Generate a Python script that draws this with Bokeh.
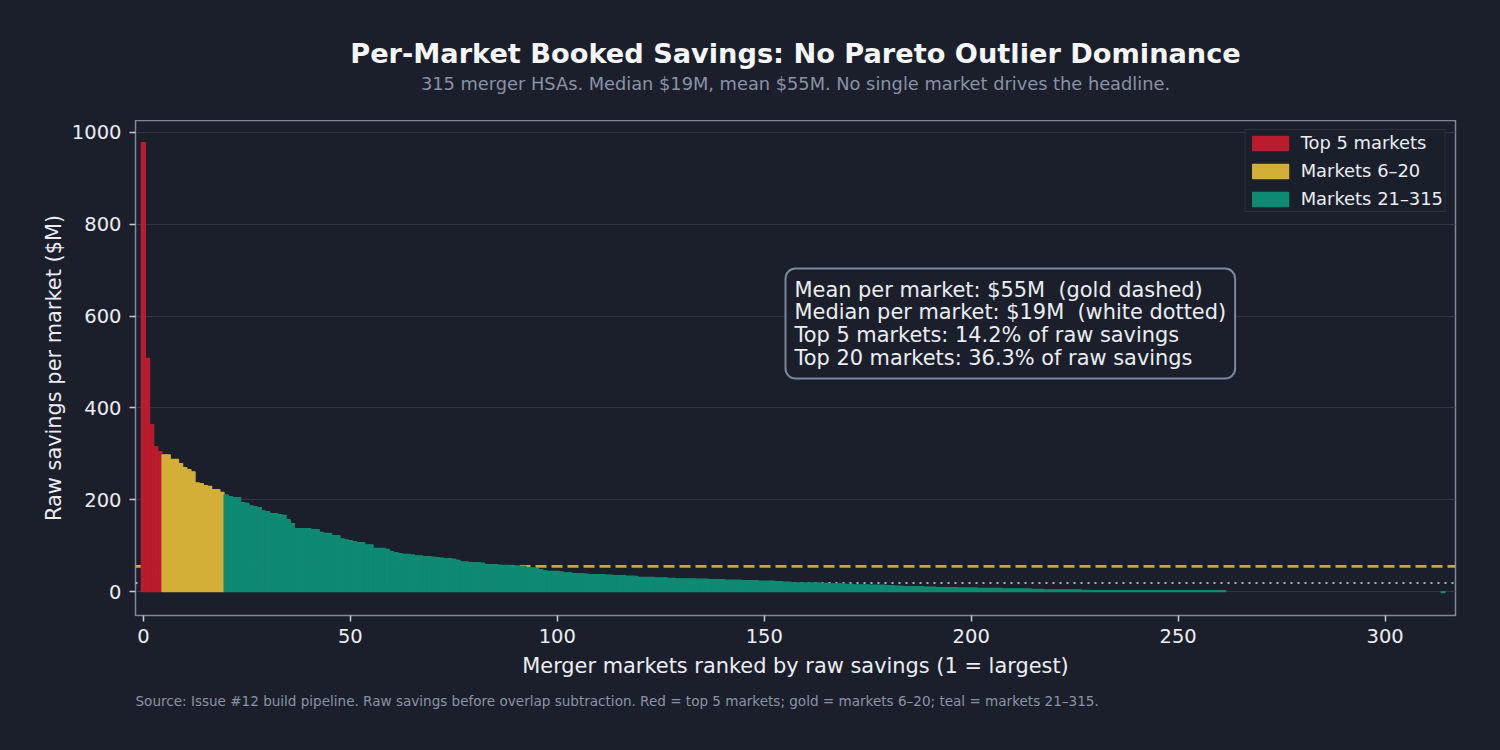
from bokeh.plotting import figure
from bokeh.layouts import column
from bokeh.models import Span, Label, Range1d, FixedTicker
from bokeh.embed import file_html
from bokeh.resources import INLINE

# ---------------- data ----------------
top5_values = [978, 508, 364, 316, 305]
mid_values = [298, 298, 288, 288, 279, 270, 266, 261, 237, 235, 231, 229, 222, 222, 216]
rest_values = [
    211, 207, 205, 205, 194, 192, 187, 185, 183, 176, 174, 170, 170, 168, 166, 157, 148,
    137, 137, 137, 137, 135, 135, 129, 127, 127, 122, 122, 115, 113, 111, 109, 107, 107,
    102, 102, 94, 94, 94, 92, 87, 85, 83,
    81, 81, 80, 78, 78, 76, 76, 75, 74, 73, 72, 72, 71, 68, 65, 65, 63, 63, 63, 62,
    59, 59, 59, 58, 57, 57, 56, 56, 55, 55, 52, 52, 50, 48, 46, 44, 44, 44, 43, 41, 41,
    39, 39, 39, 38, 37, 37, 37, 37, 36, 36, 35, 35, 35, 34, 34, 33,
    31, 31, 31, 31, 30, 30, 30, 29, 29, 28, 28, 28, 28, 28, 27, 27, 27,
    26, 26, 26, 26, 25, 25, 25, 25, 24, 24, 24, 24, 23, 23, 23, 23, 22, 22, 21, 21,
    19, 19, 19, 19, 19, 19, 19, 18, 18, 17, 17, 17, 17, 16, 16,
    15, 15, 15, 15, 14, 14, 14, 14, 13, 13,
    12, 12, 11, 11, 11, 11, 11, 10, 10, 10,
    9, 9, 9, 9, 9, 8, 8, 8, 8, 8,
    7, 7, 7, 7, 7, 7, 6, 6, 6, 6, 6, 6, 6,
    5, 5, 5, 4, 4, 4, 4, 4, 4, 4, 4, 4, 3, 3,
    2, 2, 2, 2, 2, 2, 2, 2, 2, 2, 2, 2, 2, 2, 2, 2, 2, 2, 2, 2, 2, 2, 2, 2, 2, 2, 2, 2,
    2, 2, 2, 2, 2,
    0.3, 0.3, 0.3, 0.3, 0.3, 0.3, 0.3, 0.3, 0.3, 0.3, 0.3, 0.3, 0.3, 0.3, 0.3, 0.3, 0.3,
    0.3, 0.3, 0.3, 0.3, 0.3, 0.3, 0.3, 0.3, 0.3, 0.3, 0.3, 0.3, 0.3, 0.3, 0.3, 0.3, 0.3,
    0.3, 0.3, 0.3, 0.3, 0.3, 0.3, 0.3, 0.3, 0.3, 0.3, 0.3, 0.3, 0.3, 0.3, 0.3, 0.3, 0.3,
    0.3, -2,
]
mean_value = 55
median_value = 19
x_ticks = [0, 50, 100, 150, 200, 250, 300]
y_ticks = [0, 200, 400, 600, 800, 1000]

title_text = "Per-Market Booked Savings: No Pareto Outlier Dominance"
subtitle_text = "315 merger HSAs. Median $19M, mean $55M. No single market drives the headline."
source_text = ("Source: Issue #12 build pipeline. Raw savings before overlap subtraction. "
               "Red = top 5 markets; gold = markets 6\u201320; teal = markets 21\u2013315.")
note_lines = [
    "Mean per market: $55M \u00a0(gold dashed)",
    "Median per market: $19M \u00a0(white dotted)",
    "Top 5 markets: 14.2% of raw savings",
    "Top 20 markets: 36.3% of raw savings",
]

# ---------------- styling ----------------
BG = "#1B1F2C"
RED = "#B91C2C"
GOLD = "#D4AF37"
TEAL = "#0F8A72"
TXT = "#ECEEF2"
MUTED = "#8A93A5"
FONT = "DejaVu Sans"
W = 1500
LEFT = 135
RIGHT = 45
HEADER_H = 120
FOOTER_H = 60
MAIN_H = 750 - HEADER_H - FOOTER_H


def blank_fig(h):
    # frame aligned with the main chart's frame; data units = page pixels
    f = figure(width=W, height=h, output_backend="svg", toolbar_location=None,
               x_range=Range1d(LEFT, W - RIGHT), y_range=Range1d(h, 0),
               x_axis_type=None, y_axis_type=None,
               min_border_left=LEFT, min_border_right=RIGHT, min_border_top=0,
               min_border_bottom=0, styles={"background-color": BG})
    f.background_fill_color = BG
    f.border_fill_color = BG
    f.outline_line_color = None
    f.xgrid.visible = False
    f.ygrid.visible = False
    return f


# ---------------- header ----------------
header = blank_fig(HEADER_H)
header.add_layout(Label(x=795, y=53, text=title_text, text_font=FONT, text_font_size="27.2px",
                        text_font_style="bold", text_color="#F5F6F8",
                        text_align="center", text_baseline="middle"))
header.add_layout(Label(x=795, y=83, text=subtitle_text, text_font=FONT, text_font_size="17.8px",
                        text_color=MUTED, text_align="center", text_baseline="middle"))

# ---------------- main chart ----------------
n1 = len(top5_values)
n2 = len(mid_values)
n3 = len(rest_values)
x1 = list(range(0, n1))
x2 = list(range(n1, n1 + n2))
x3 = list(range(n1 + n2, n1 + n2 + n3))
rest_lw = [1.2 if abs(v) >= 1 else 0 for v in rest_values]

p = figure(width=W, height=MAIN_H, output_backend="svg", toolbar_location=None,
           x_range=Range1d(-1.9, 317), y_range=Range1d(-52, 1026),
           min_border_left=LEFT, min_border_right=RIGHT, min_border_top=0,
           min_border_bottom=MAIN_H - 495, styles={"background-color": BG})

p.background_fill_color = BG
p.border_fill_color = BG
p.outline_line_color = "#7E8898"
p.outline_line_width = 1.5

p.xgrid.visible = False
p.ygrid.grid_line_color = "#2F3546"
p.ygrid.grid_line_width = 1
p.ygrid.level = "underlay"

mean_span = Span(location=mean_value, dimension="width", line_color=GOLD, line_alpha=0.95,
                 line_width=2.7, line_dash="11 5", level="underlay")
median_span = Span(location=median_value, dimension="width", line_color="#C4C8D0",
                   line_alpha=0.85, line_width=2, line_dash="2 5", level="underlay")
p.add_layout(mean_span)
p.add_layout(median_span)

p.vbar(x=x1, top=top5_values, width=1, fill_color=RED, line_color=RED, line_width=1.2,
       legend_label="Top 5 markets")
p.vbar(x=x2, top=mid_values, width=1, fill_color=GOLD, line_color=GOLD, line_width=1.2,
       legend_label="Markets 6\u201320")
p.vbar(x=x3, top=rest_values, width=1, fill_color=TEAL, line_color=TEAL, line_width=rest_lw,
       legend_label="Markets 21\u2013315")

for ax in (p.xaxis[0], p.yaxis[0]):
    ax.axis_line_color = None
    ax.major_tick_line_color = "#C8CCD4"
    ax.major_tick_line_width = 1.5
    ax.major_tick_out = 6
    ax.major_tick_in = 0
    ax.minor_tick_line_color = None
    ax.major_label_text_font = FONT
    ax.major_label_text_font_size = "19.5px"
    ax.major_label_text_color = TXT
    ax.axis_label_text_font = FONT
    ax.axis_label_text_font_size = "20.9px"
    ax.axis_label_text_font_style = "normal"
    ax.axis_label_text_color = TXT

p.xaxis.ticker = FixedTicker(ticks=x_ticks)
p.yaxis.ticker = FixedTicker(ticks=y_ticks)
p.xaxis.axis_label = "Merger markets ranked by raw savings (1 = largest)"
p.yaxis.axis_label = "Raw savings per market ($M)"
p.xaxis.major_label_standoff = 7
p.yaxis.major_label_standoff = 8
p.xaxis.axis_label_standoff = 8
p.yaxis.axis_label_standoff = 3

leg = p.legend[0]
leg.location = "top_right"
leg.margin = 9
leg.padding = 2
leg.spacing = 7
leg.glyph_width = 45
leg.glyph_height = 18
leg.label_height = 20
leg.label_standoff = 8
leg.label_text_font = FONT
leg.label_text_font_size = "17.9px"
leg.label_text_color = TXT
leg.background_fill_color = BG
leg.background_fill_alpha = 0.9
leg.border_line_color = "#3C4252"
leg.border_line_width = 1.5

p.add_layout(Label(x=650, y=347, x_units="screen", y_units="screen", text="\n".join(note_lines),
                   text_font=FONT, text_font_size="20.9px", text_color=TXT,
                   text_align="left", text_baseline="top", text_line_height=0.945,
                   background_fill_color=BG, background_fill_alpha=1.0,
                   border_line_color="#7B889B", border_line_width=2,
                   border_radius=10, padding=9))

# ---------------- footer ----------------
footer = blank_fig(FOOTER_H)
footer.add_layout(Label(x=135, y=10, text=source_text, text_font=FONT, text_font_size="13.55px",
                        text_color=MUTED, text_align="left", text_baseline="middle"))

assert len(top5_values) + len(mid_values) + len(rest_values) == 315

layout = column(header, p, footer, spacing=0, styles={"background-color": BG})
open("out.html", "w").write(file_html(layout, INLINE))
